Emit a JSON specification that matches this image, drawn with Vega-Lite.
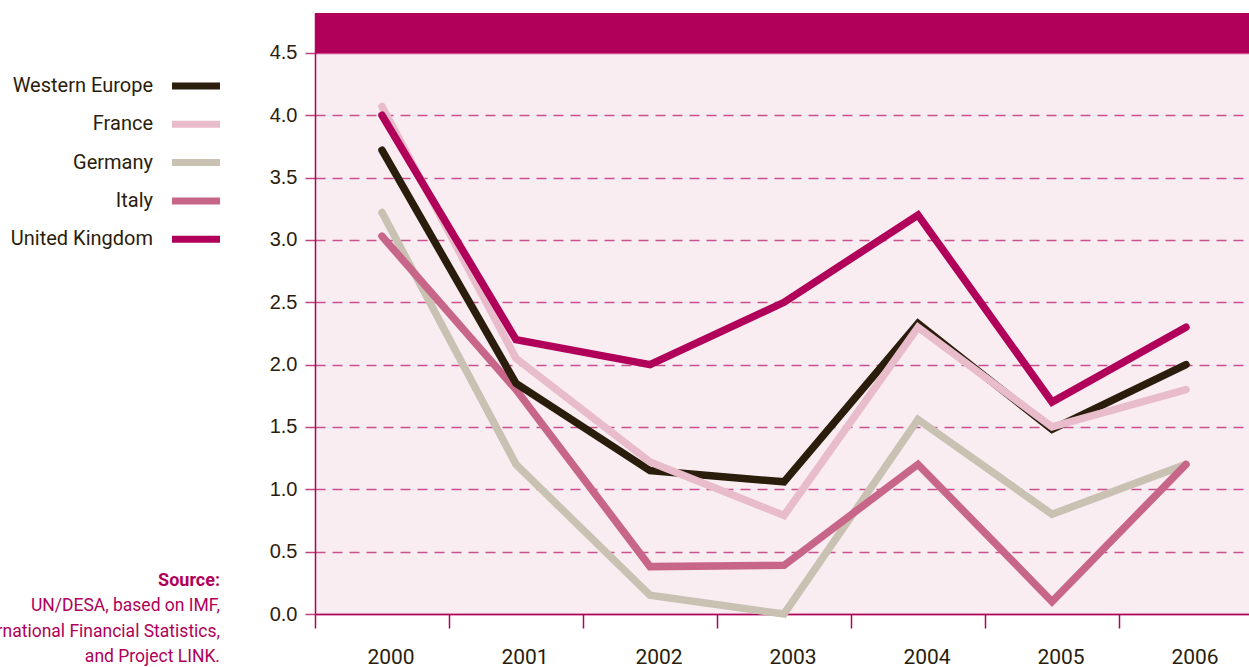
{
  "$schema": "https://vega.github.io/schema/vega-lite/v6.json",
  "autosize": "none",
  "width": 934,
  "height": 601,
  "padding": {"left": 315, "top": 13, "right": 0, "bottom": 53},
  "background": "#ffffff",
  "config": {
    "view": {"fill": "#f9edf2", "stroke": null},
    "font": "Roboto"
  },
  "title": {
    "text": "Source:",
    "subtitle": ["UN/DESA, based on IMF,", "International Financial Statistics,", "and Project LINK."],
    "orient": "bottom",
    "anchor": "start",
    "frame": "group",
    "align": "right",
    "dx": -95,
    "dy": -95,
    "offset": 0,
    "color": "#b0005a",
    "font": "Roboto",
    "fontSize": 18,
    "fontWeight": "bold",
    "subtitleColor": "#b0005a",
    "subtitleFont": "Roboto",
    "subtitleFontSize": 17.5,
    "subtitleLineHeight": 25.5,
    "subtitlePadding": 7
  },
  "data": {
    "values": [
      {"series": "Germany", "year": "2000", "value": 3.22},
      {"series": "Germany", "year": "2001", "value": 1.2},
      {"series": "Germany", "year": "2002", "value": 0.15},
      {"series": "Germany", "year": "2003", "value": 0.0},
      {"series": "Germany", "year": "2004", "value": 1.56},
      {"series": "Germany", "year": "2005", "value": 0.8},
      {"series": "Germany", "year": "2006", "value": 1.2},
      {"series": "Italy", "year": "2000", "value": 3.03},
      {"series": "Italy", "year": "2001", "value": 1.8},
      {"series": "Italy", "year": "2002", "value": 0.38},
      {"series": "Italy", "year": "2003", "value": 0.39},
      {"series": "Italy", "year": "2004", "value": 1.2},
      {"series": "Italy", "year": "2005", "value": 0.1},
      {"series": "Italy", "year": "2006", "value": 1.2},
      {"series": "Western Europe", "year": "2000", "value": 3.72},
      {"series": "Western Europe", "year": "2001", "value": 1.85},
      {"series": "Western Europe", "year": "2002", "value": 1.15},
      {"series": "Western Europe", "year": "2003", "value": 1.06},
      {"series": "Western Europe", "year": "2004", "value": 2.33},
      {"series": "Western Europe", "year": "2005", "value": 1.48},
      {"series": "Western Europe", "year": "2006", "value": 2.0},
      {"series": "France", "year": "2000", "value": 4.07},
      {"series": "France", "year": "2001", "value": 2.05},
      {"series": "France", "year": "2002", "value": 1.22},
      {"series": "France", "year": "2003", "value": 0.79},
      {"series": "France", "year": "2004", "value": 2.3},
      {"series": "France", "year": "2005", "value": 1.5},
      {"series": "France", "year": "2006", "value": 1.8},
      {"series": "United Kingdom", "year": "2000", "value": 4.0},
      {"series": "United Kingdom", "year": "2001", "value": 2.2},
      {"series": "United Kingdom", "year": "2002", "value": 2.0},
      {"series": "United Kingdom", "year": "2003", "value": 2.5},
      {"series": "United Kingdom", "year": "2004", "value": 3.2},
      {"series": "United Kingdom", "year": "2005", "value": 1.7},
      {"series": "United Kingdom", "year": "2006", "value": 2.3}
    ]
  },
  "layer": [
    {
      "mark": {"type": "rect", "color": "#b0005a"},
      "encoding": {
        "y": {"datum": 4.5, "type": "quantitative"},
        "y2": {"datum": 4.82}
      }
    },
    {
      "mark": {"type": "line", "strokeWidth": 7.5, "strokeCap": "round", "strokeJoin": "miter"},
      "encoding": {
        "x": {
          "field": "year",
          "type": "ordinal",
          "bandPosition": 0.5,
          "scale": {"type": "band", "paddingInner": 0, "paddingOuter": 0, "range": [0, 938]},
          "axis": {
            "title": null,
            "bandPosition": 0,
            "labelAngle": 0,
            "labelOffset": 9,
            "labelFont": "Roboto",
            "labelFontSize": 21,
            "labelColor": "#2a1d0b",
            "labelPadding": 18,
            "tickSize": 14,
            "tickColor": "#b0005a",
            "tickWidth": 1.5,
            "domainColor": "#b0005a",
            "domainWidth": 1.5,
            "grid": false
          }
        },
        "y": {
          "field": "value",
          "type": "quantitative",
          "scale": {"domain": [0, 4.82], "nice": false, "zero": false},
          "axis": {
            "title": null,
            "values": [0, 0.5, 1, 1.5, 2, 2.5, 3, 3.5, 4, 4.5],
            "format": ".1f",
            "labelFont": "Liberation Sans",
            "labelFontSize": 20,
            "labelColor": "#2a1d0b",
            "labelPadding": 8,
            "tickSize": 10,
            "tickColor": "#c0407f",
            "tickWidth": 1.5,
            "domainColor": "#b0005a",
            "domainWidth": 1.5,
            "grid": true,
            "gridColor": "#c9508d",
            "gridWidth": 1.5,
            "gridDash": {"condition": {"test": "datum.value == 0 || datum.value == 4.5", "value": []}, "value": [10, 7]}
          }
        },
        "color": {
          "field": "series",
          "type": "nominal",
          "scale": {
            "domain": ["Western Europe", "France", "Germany", "Italy", "United Kingdom"],
            "range": ["#2a1d0b", "#e8bccb", "#c9c2b3", "#c8668a", "#b0005a"]
          },
          "legend": {
            "title": null,
            "orient": "none",
            "legendX": -134.5,
            "legendY": 57.5,
            "padding": 0,
            "symbolType": "M-2,0H2",
            "symbolSize": 576,
            "symbolStrokeWidth": 7,
            "rowPadding": 8.3,
            "labelAlign": "right",
            "labelOffset": -58.5,
            "labelFont": "Roboto",
            "labelFontSize": 20,
            "labelColor": "#2a1d0b",
            "labelLimit": 300
          }
        }
      }
    }
  ]
}
